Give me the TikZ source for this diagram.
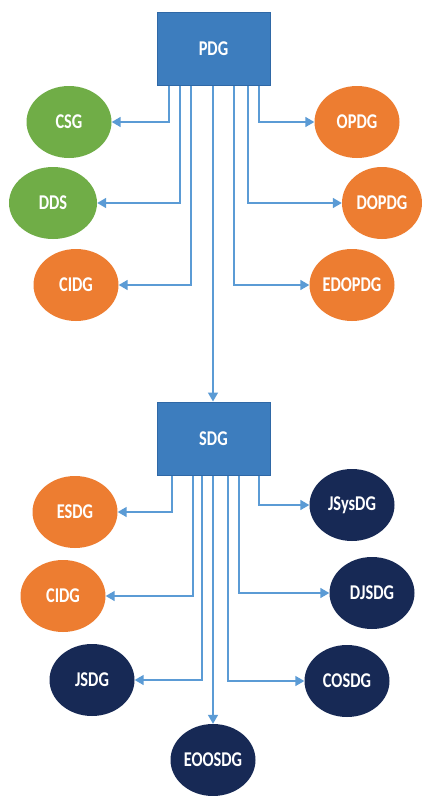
\documentclass[tikz,border=0pt]{standalone}
\usepackage{fontspec}
\setmainfont{Carlito}[FakeStretch=0.78]
\usetikzlibrary{shapes.geometric,arrows.meta}
\definecolor{boxblue}{HTML}{3D7DBE}
\definecolor{boxedge}{HTML}{2F68A6}
\definecolor{lineblue}{HTML}{5B9BD5}
\definecolor{ogreen}{HTML}{70AD47}
\definecolor{oorange}{HTML}{ED7D31}
\definecolor{onavy}{HTML}{172955}
\begin{document}
\begin{tikzpicture}[x=1pt,y=-1pt,
  gbox/.style={rectangle, fill=boxblue, draw=boxedge, line width=1pt, minimum width=113pt, minimum height=73pt, inner sep=0pt, text=white, font=\bfseries\fontsize{21}{25}\selectfont},
  oval/.style={ellipse, minimum width=85pt, minimum height=72pt, inner sep=0pt, text=white, font=\bfseries\fontsize{21}{25}\selectfont},
  greenov/.style={oval, fill=ogreen},
  orangeov/.style={oval, fill=oorange},
  navyov/.style={oval, fill=onavy},
  arr/.style={draw=lineblue, line width=1.5pt, -{Triangle[length=9pt,width=10pt]}}]
\useasboundingbox (0,0) rectangle (422,796);
\fill[white] (0,0) rectangle (422,796);
% top group
\node[gbox] (pdg) at (213.5,48.5) {PDG};
\node[greenov] (csg) at (69,122) {CSG};
\node[greenov, minimum width=88pt] (dds) at (53,203) {DDS};
\node[orangeov] (cidga) at (76,285) {CIDG};
\node[orangeov] (opdg) at (357,122) {OPDG};
\node[orangeov, minimum width=80pt] (dopdg) at (382,203) {DOPDG};
\node[orangeov] (edopdg) at (352,285) {EDOPDG};
% bottom group
\node[gbox] (sdg) at (213.5,438.5) {SDG};
\node[orangeov] (esdg) at (75,512) {ESDG};
\node[orangeov] (cidgb) at (63,596) {CIDG};
\node[navyov] (jsdg) at (92,680) {JSDG};
\node[navyov] (eoosdg) at (213,760) {EOOSDG};
\node[navyov] (jsysdg) at (352,505) {JSysDG};
\node[navyov] (djsdg) at (372,593) {DJSDG};
\node[navyov] (cosdg) at (347,681) {COSDG};
% connectors top
\draw[arr] ([xshift=-44.5pt]pdg.south) |- (csg.east);
\draw[arr] ([xshift=-33.5pt]pdg.south) |- (dds.east);
\draw[arr] ([xshift=-22.5pt]pdg.south) |- (cidga.east);
\draw[arr] ([xshift=45.5pt]pdg.south) |- (opdg.west);
\draw[arr] ([xshift=34.5pt]pdg.south) |- (dopdg.west);
\draw[arr] ([xshift=20.5pt]pdg.south) |- (edopdg.west);
\draw[arr] ([xshift=-0.5pt]pdg.south) -- ([xshift=-0.5pt]sdg.north);
% connectors bottom
\draw[arr] ([xshift=-41.5pt]sdg.south) |- (esdg.east);
\draw[arr] ([xshift=-20.5pt]sdg.south) |- (cidgb.east);
\draw[arr] ([xshift=-11.5pt]sdg.south) |- (jsdg.east);
\draw[arr] ([xshift=-0.5pt]sdg.south) -- (eoosdg.north);
\draw[arr] ([xshift=45.5pt]sdg.south) |- (jsysdg.west);
\draw[arr] ([xshift=25.5pt]sdg.south) |- (djsdg.west);
\draw[arr] ([xshift=14.5pt]sdg.south) |- (cosdg.west);
\end{tikzpicture}
\end{document}
